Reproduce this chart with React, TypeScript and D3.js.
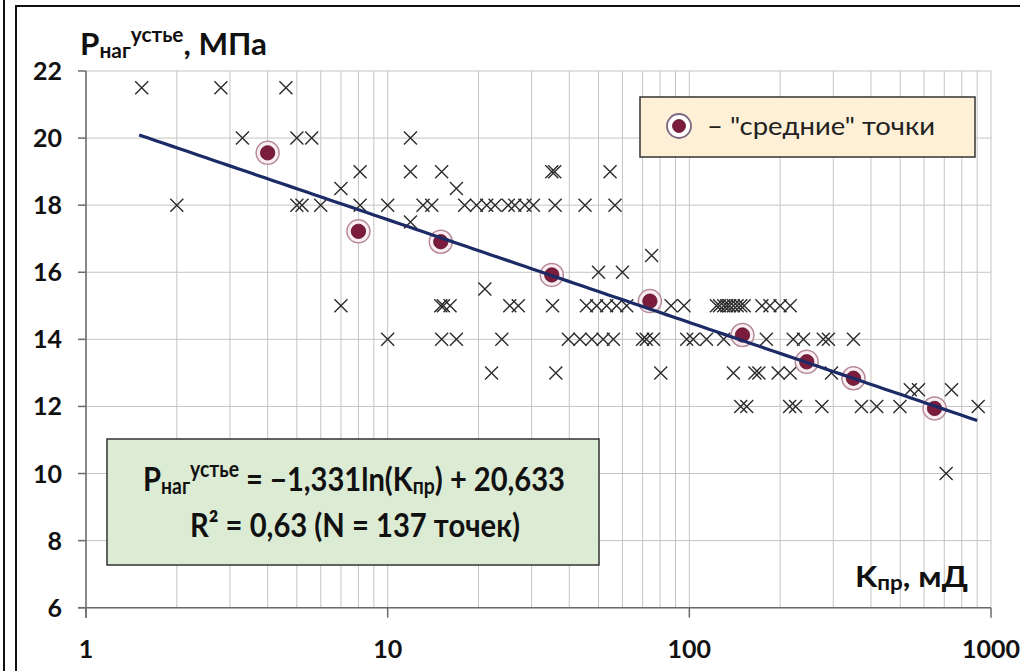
import React from "react";
import * as d3 from "d3";

// Scatter data: permeability K (mD) and wellhead injection pressure P (MPa)
const scatterK = [
  1.53, 2.8, 4.6,
  3.3, 5.0, 5.6, 11.9,
  8.1, 11.9, 15.1, 35, 35.8, 54.6,
  7.0, 16.9,
  2.0, 5.0, 5.2, 6.0, 8.1, 10, 13.1, 14.0, 18.0, 19.7, 21.3, 22.7, 25.1, 26.4, 28.5, 30.4, 35.9, 45.1, 56.7,
  11.9,
  75,
  50, 60,
  21,
  7.0, 15.0, 15.3, 16.1, 25.4, 27.1, 35.2, 45.6, 49.3, 53.2, 57.4, 62, 87, 96, 123, 126, 130, 133, 136, 140, 144, 148, 152, 174, 185, 200, 216,
  10, 15.1, 16.9, 23.9, 39.7, 43.4, 47.5, 51.8, 56, 70, 72, 76, 98, 103, 114, 130, 180, 221, 239, 278, 289, 350,
  22.1, 36.1, 80.4, 140, 165, 170, 197, 216, 296,
  540, 575, 740,
  148, 155, 215, 225, 275, 372, 418, 499, 907,
  710,
];
const scatterP = [
  21.5, 21.5, 21.5,
  20, 20, 20, 20,
  19, 19, 19, 19, 19, 19,
  18.5, 18.5,
  18, 18, 18, 18, 18, 18, 18, 18, 18, 18, 18, 18, 18, 18, 18, 18, 18, 18, 18,
  17.5,
  16.5,
  16, 16,
  15.5,
  15, 15, 15, 15, 15, 15, 15, 15, 15, 15, 15, 15, 15, 15, 15, 15, 15, 15, 15, 15, 15, 15, 15, 15, 15, 15, 15,
  14, 14, 14, 14, 14, 14, 14, 14, 14, 14, 14, 14, 14, 14, 14, 14, 14, 14, 14, 14, 14, 14,
  13, 13, 13, 13, 13, 13, 13, 13, 13,
  12.5, 12.5, 12.5,
  12, 12, 12, 12, 12, 12, 12, 12, 12,
  10,
];

// "Average" points
const meanK = [4, 8, 15, 35, 74, 150, 245, 350, 650];
const meanP = [19.56, 17.22, 16.91, 15.92, 15.14, 14.13, 13.33, 12.84, 11.94];

// Trend line: P = -1.331 ln(K) + 20.633
const trendA = -1.331;
const trendB = 20.633;
const trendRange = [1.5, 900];

const xTickValues = [1, 10, 100, 1000];
const yTickValues = [6, 8, 10, 12, 14, 16, 18, 20, 22];

const FONT = "Lato, 'Open Sans', 'DejaVu Sans', sans-serif";

export default function App() {
  const x = d3.scaleLog().domain([1, 1000]).range([86, 991]);
  const y = d3.scaleLinear().domain([6, 22]).range([607.7, 71]);

  const minorX: number[] = [];
  for (let d = 0; d < 3; d++) {
    for (let m = 1; m <= 9; m++) minorX.push(m * Math.pow(10, d));
  }
  minorX.push(1000);

  const trendPts = d3.range(0, 101).map((i) => {
    const k = Math.exp(Math.log(trendRange[0]) + (i / 100) * (Math.log(trendRange[1]) - Math.log(trendRange[0])));
    return [k, trendA * Math.log(k) + trendB] as [number, number];
  });
  const line = d3
    .line<[number, number]>()
    .x((d) => x(d[0]))
    .y((d) => y(d[1]));

  const [x0, x1] = x.range();
  const [yb, yt] = y.range();
  const gridColor = "#c4c4c4";
  const axisColor = "#6b6b6b";

  return (
    <svg
      width={1020}
      height={671}
      style={{ position: "absolute", left: 0, top: 0, background: "#fff" }}
      fontFamily={FONT}
    >
      <rect x={0} y={0} width={1020} height={671} fill="#fff" />
      {/* frame */}
      <line x1={4} y1={0} x2={4} y2={671} stroke="#111" strokeWidth={2} />
      <line x1={16} y1={6} x2={16} y2={671} stroke="#111" strokeWidth={2} />
      <line x1={15} y1={6} x2={1020} y2={6} stroke="#111" strokeWidth={2} />

      {/* grid */}
      {minorX.map((v, i) => (
        <line key={"gx" + i} x1={x(v)} x2={x(v)} y1={yt} y2={yb} stroke={gridColor} strokeWidth={1} />
      ))}
      {yTickValues.map((v) => (
        <line key={"gy" + v} x1={x0} x2={x1} y1={y(v)} y2={y(v)} stroke={gridColor} strokeWidth={1} />
      ))}

      {/* axes */}
      <line x1={x0} x2={x0} y1={yt} y2={yb + 10} stroke={axisColor} strokeWidth={1.5} />
      <line x1={x0 - 8} x2={x1} y1={yb} y2={yb} stroke={axisColor} strokeWidth={1.5} />
      {yTickValues.map((v) => (
        <line key={"ty" + v} x1={x0 - 8} x2={x0} y1={y(v)} y2={y(v)} stroke={axisColor} strokeWidth={1.5} />
      ))}
      {xTickValues.map((v) => (
        <line key={"tx" + v} x1={x(v)} x2={x(v)} y1={yb} y2={yb + 10} stroke={axisColor} strokeWidth={1.5} />
      ))}
      {yTickValues.map((v) => (
        <text key={"ly" + v} x={62} y={y(v) + 9} textAnchor="end" fontSize={25} fontWeight="bold" fill="#111">
          {v}
        </text>
      ))}
      {xTickValues.map((v) => (
        <text key={"lx" + v} x={x(v)} y={658} textAnchor="middle" fontSize={25} fontWeight="bold" fill="#111">
          {v}
        </text>
      ))}

      {/* title */}
      <text x={80} y={55} fontSize={30} fontWeight="bold" fill="#111" textLength={187} lengthAdjust="spacingAndGlyphs">
        P<tspan fontSize={20} dy={3}>наг</tspan>
        <tspan fontSize={20} dy={-16}>устье</tspan>
        <tspan fontSize={30} dy={13}>, МПа</tspan>
      </text>

      {/* x-axis title */}
      <text x={855} y={587} fontSize={29} fontWeight="bold" fill="#111" textLength={113} lengthAdjust="spacingAndGlyphs">
        K<tspan fontSize={20} dy={3}>пр</tspan>
        <tspan fontSize={29} dy={-3}>, мД</tspan>
      </text>

      {/* scatter crosses */}
      {scatterK.map((k, i) => {
        const cx = x(k);
        const cy = y(scatterP[i]);
        const s = 6.5;
        return (
          <path
            key={"s" + i}
            d={`M${cx - s},${cy - s}L${cx + s},${cy + s}M${cx - s},${cy + s}L${cx + s},${cy - s}`}
            stroke="#2b2b2b"
            strokeWidth={1.4}
            fill="none"
          />
        );
      })}

      {/* mean points */}
      {meanK.map((k, i) => (
        <g key={"m" + i}>
          <circle cx={x(k)} cy={y(meanP[i])} r={11.5} fill="#fbeef2" stroke="#b58a9a" strokeWidth={1.5} />
          <circle cx={x(k)} cy={y(meanP[i])} r={7.2} fill="#7b1c3c" stroke="#5e1229" strokeWidth={0.8} />
        </g>
      ))}

      {/* trend line */}
      <path d={line(trendPts) || ""} fill="none" stroke="#1c2a66" strokeWidth={3.2} />

      {/* legend */}
      <rect x={640} y={97} width={335} height={60} fill="#fdf0d7" stroke="#333" strokeWidth={1.5} />
      <circle cx={679} cy={126} r={12} fill="#fff" stroke="#7a6880" strokeWidth={1.8} />
      <circle cx={679} cy={126} r={6.5} fill="#7b1c3c" stroke="#5e1229" strokeWidth={0.8} />
      <text x={707} y={135} fontSize={25} fill="#222" textLength={228} lengthAdjust="spacingAndGlyphs">
        – "средние" точки
      </text>

      {/* equation box */}
      <rect x={107} y={439} width={492} height={126} fill="#dcebd3" stroke="#333" strokeWidth={1.5} />
      <text x={143} y={491} fontSize={33} fontWeight="bold" fill="#111" textLength={422} lengthAdjust="spacingAndGlyphs">
        P<tspan fontSize={22} dy={3}>наг</tspan>
        <tspan fontSize={22} dy={-17}>устье</tspan>
        <tspan fontSize={33} dy={14}> = −1,331ln(K</tspan>
        <tspan fontSize={22} dy={3}>пр</tspan>
        <tspan fontSize={33} dy={-3}>) + 20,633</tspan>
      </text>
      <text x={190} y={537} fontSize={33} fontWeight="bold" fill="#111" textLength={330} lengthAdjust="spacingAndGlyphs">
        R² = 0,63 (N = 137 точек)
      </text>
    </svg>
  );
}
